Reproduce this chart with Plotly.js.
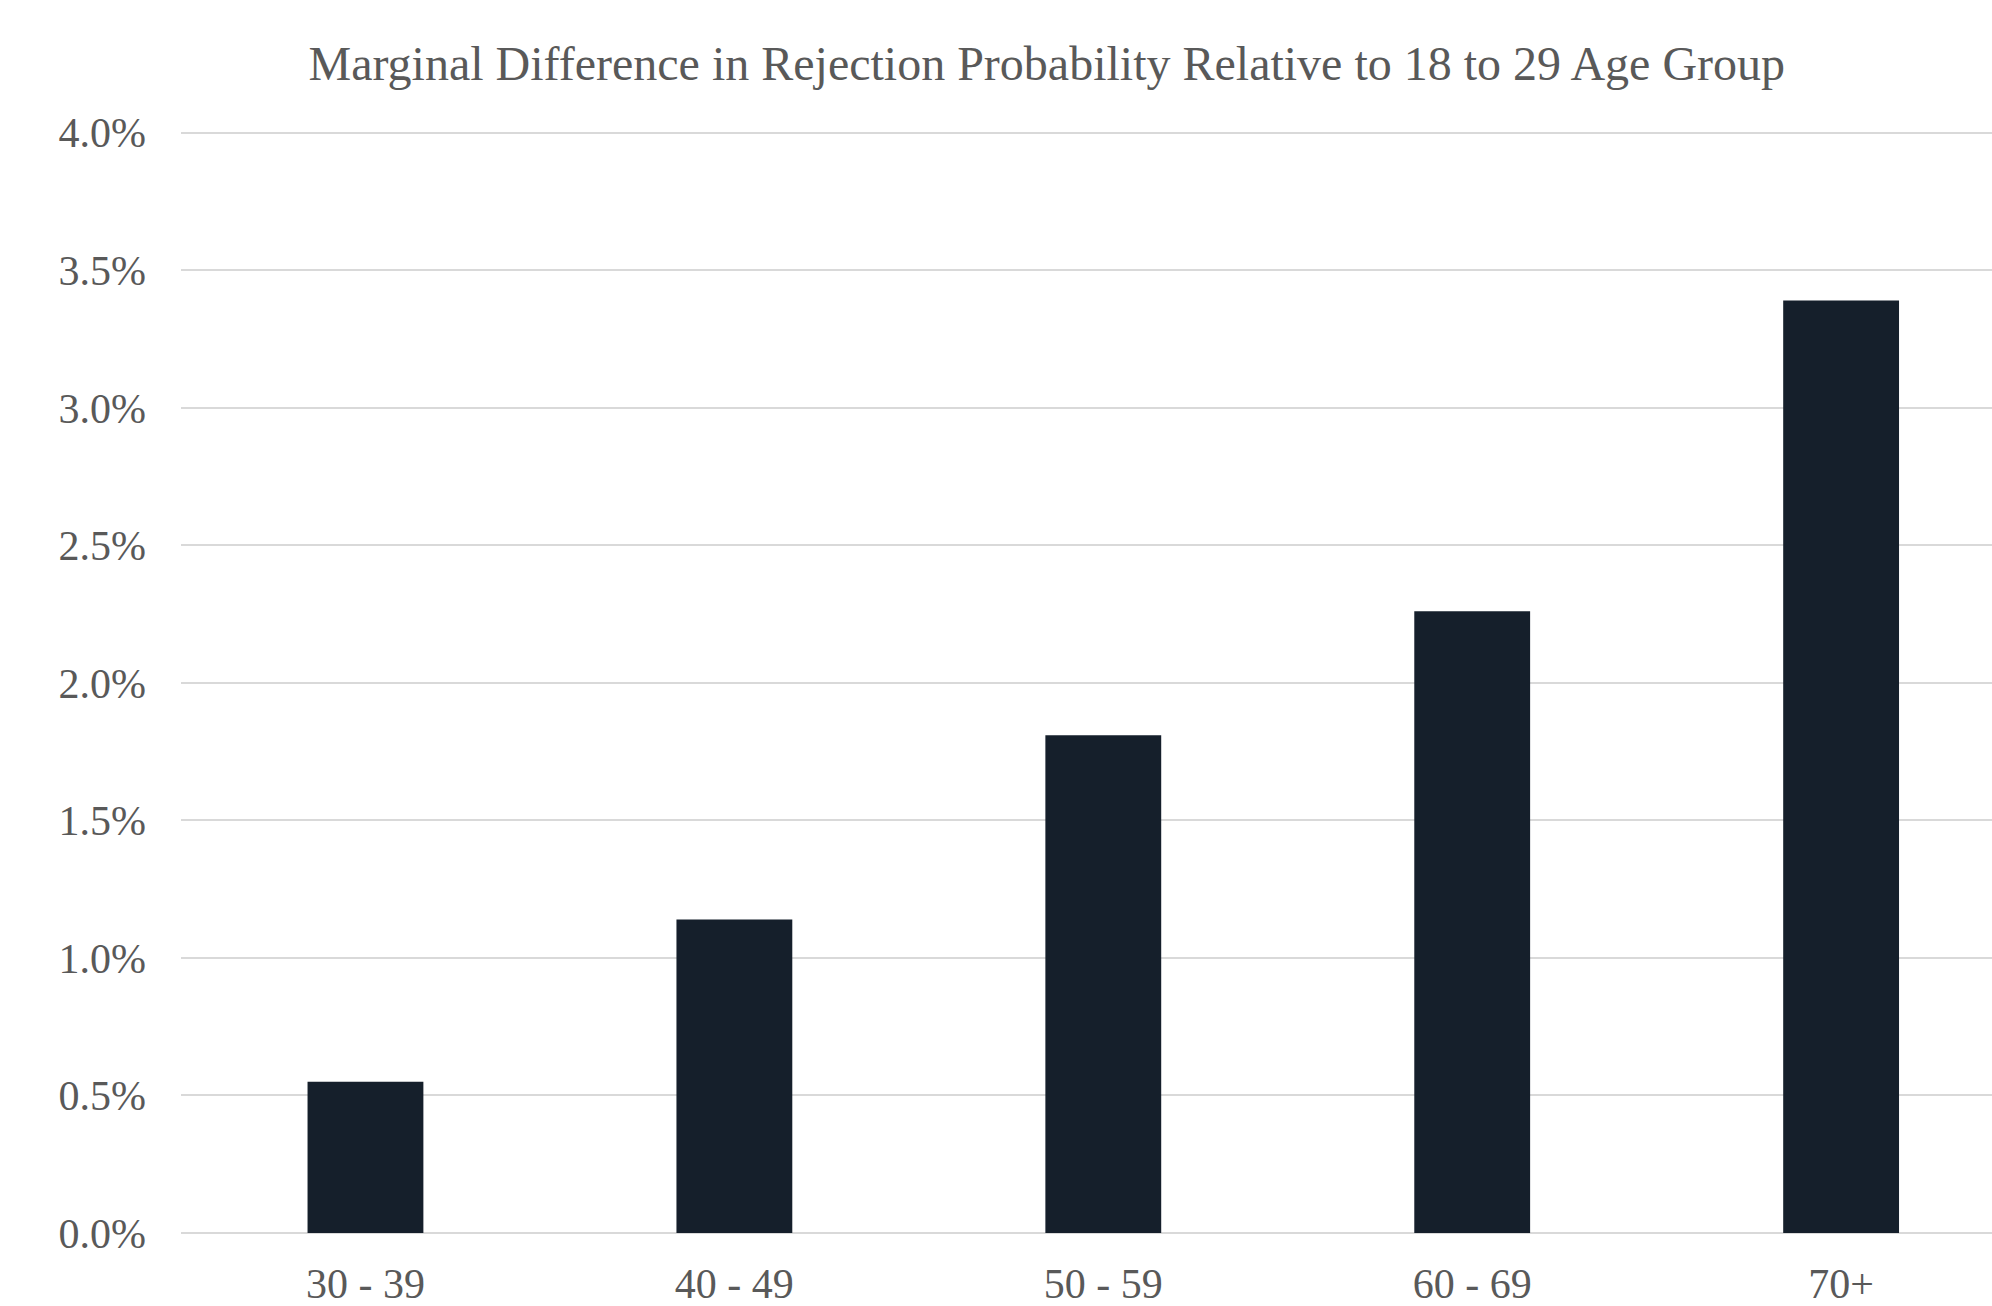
<!DOCTYPE html>
<html>
<head>
<meta charset="utf-8">
<script src="https://cdn.plot.ly/plotly-3.0.1.min.js"></script>
<style>html,body{margin:0;padding:0;background:#fff;}#chart{width:1992px;height:1306px;}</style>
</head>
<body>
<div id="chart"></div>
<script>
const categories = ["30 - 39", "40 - 49", "50 - 59", "60 - 69", "70+"];
const values = [0.0055, 0.0114, 0.0181, 0.0226, 0.0339];
const yTickVals = [0, 0.005, 0.01, 0.015, 0.02, 0.025, 0.03, 0.035, 0.04];
const titleText = "Marginal Difference in Rejection Probability Relative to 18 to 29 Age Group";

const fontFamily = "'Liberation Serif', 'Times New Roman', serif";
const textGray = "#595959";

const data = [{
  type: "bar",
  x: categories,
  y: values,
  marker: {color: "#151f2b", line: {width: 0}},
  width: 0.314,
  hoverinfo: "skip"
}];

const layout = {
  width: 1992,
  height: 1306,
  margin: {l: 181, r: 0, t: 129.6, b: 72.7, pad: 0},
  paper_bgcolor: "#ffffff",
  plot_bgcolor: "#ffffff",
  showlegend: false,
  title: {
    text: titleText,
    font: {family: fontFamily, size: 48, color: textGray},
    xref: "container", x: 0.5255, xanchor: "center",
    yref: "container", y: 1 - 46/1306, yanchor: "top"
  },
  xaxis: {
    type: "category",
    range: [-0.5, 4.409],
    showgrid: false,
    zeroline: false,
    showline: false,
    ticks: "",
    tickfont: {family: fontFamily, size: 42, color: textGray},
    ticklabelstandoff: 22
  },
  yaxis: {
    range: [0, 0.0401],
    tickvals: yTickVals,
    tickformat: ".1%",
    showgrid: true,
    gridcolor: "#d9d9d9",
    gridwidth: 2,
    zeroline: true,
    zerolinecolor: "#d9d9d9",
    zerolinewidth: 2,
    showline: false,
    ticks: "",
    tickfont: {family: fontFamily, size: 42, color: textGray},
    ticklabelstandoff: 34
  }
};

Plotly.newPlot("chart", data, layout, {displayModeBar: false, staticPlot: true});
</script>
</body>
</html>
